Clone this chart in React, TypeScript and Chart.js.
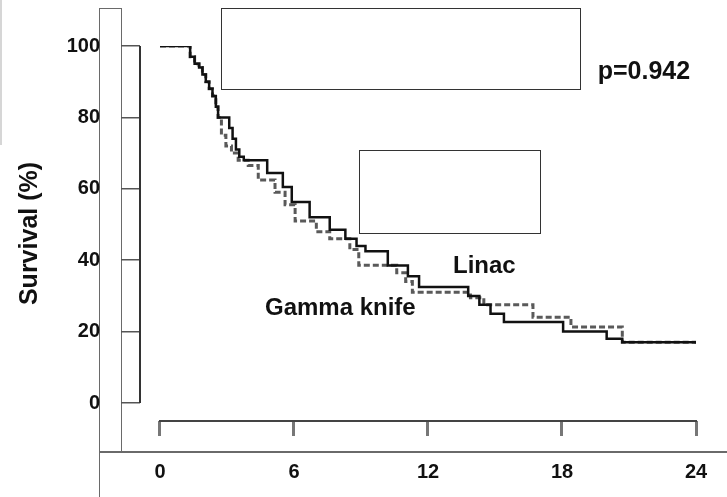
import { useEffect, useRef } from "react";
import { Chart, registerables } from "chart.js";

Chart.register(...registerables);

// ---- data (months, survival %) ----
const X_TICKS = [0, 6, 12, 18, 24];
const Y_TICKS = [0, 20, 40, 60, 80, 100];

const LINAC_MONTHS = [0, 1.35, 1.55, 1.75, 1.9, 2.05, 2.2, 2.35, 2.5, 2.6, 3.1, 3.25, 3.4, 3.55, 3.75, 4.8, 5.5, 5.9, 6.7, 7.6, 8.3, 8.8, 9.2, 10.2, 11.1, 11.6, 13.8, 14.3, 14.8, 15.4, 18.05, 20.0, 20.7, 24];
const LINAC_SURVIVAL = [100, 97, 95, 94, 92, 90, 88, 86, 83, 80, 77, 74, 71, 69, 68, 64.4, 60.5, 56.3, 52, 48.5, 46, 44, 42.5, 38.5, 35.5, 32.5, 30, 27.5, 25, 22.7, 20, 18, 17, 17];

const GK_MONTHS = [0, 1.35, 1.55, 1.75, 1.9, 2.05, 2.2, 2.35, 2.5, 2.6, 2.75, 2.95, 3.2, 3.5, 3.95, 4.4, 5.15, 5.6, 6.05, 7.0, 7.6, 8.5, 8.9, 10.6, 11.0, 11.3, 13.9, 14.5, 16.7, 18.4, 20.7, 24];
const GK_SURVIVAL = [100, 97, 95, 94, 92, 90, 88, 86, 83, 80, 75, 72, 70, 68, 66.5, 62.5, 59, 55.5, 51, 48, 46, 43, 38.6, 36.5, 34, 31, 29.5, 27.5, 24, 21.3, 17, 16.5];

const SERIES_NAMES = ["Linac", "Gamma knife"];
const P_VALUE_TEXT = "p=0.942";
const Y_TITLE = "Survival (%)";

const FONT = '"Liberation Sans", Arial, Helvetica, sans-serif';

const decorPlugin = {
  id: "decor",
  beforeDraw(chart: any) {
    const ctx = chart.ctx as CanvasRenderingContext2D;
    const seg = (x1: number, y1: number, x2: number, y2: number) => {
      ctx.beginPath();
      ctx.moveTo(x1, y1);
      ctx.lineTo(x2, y2);
      ctx.stroke();
    };
    ctx.save();
    // faint scan edge on the far left
    ctx.strokeStyle = "#c8c8c8";
    ctx.lineWidth = 1.5;
    seg(1, 0, 1, 145);
    // frame lines
    ctx.strokeStyle = "#6a6a6a";
    ctx.lineWidth = 1;
    seg(99.5, 8, 99.5, 497);
    seg(121.5, 8, 121.5, 452);
    seg(99, 8.5, 122, 8.5);
    ctx.lineWidth = 2;
    seg(99, 452, 727, 452);
    // blank boxes
    ctx.fillStyle = "#ffffff";
    ctx.strokeStyle = "#333333";
    ctx.lineWidth = 1;
    ctx.fillRect(221.5, 8.5, 359, 81);
    ctx.strokeRect(221.5, 8.5, 359, 81);
    ctx.fillRect(359.5, 150.5, 181, 83);
    ctx.strokeRect(359.5, 150.5, 181, 83);
    ctx.restore();
  },
  afterDraw(chart: any) {
    const ctx = chart.ctx as CanvasRenderingContext2D;
    const xs = chart.scales.x;
    const ys = chart.scales.y;
    const area = chart.chartArea;
    ctx.save();
    // axis lines
    ctx.strokeStyle = "#333";
    ctx.lineWidth = 2;
    ctx.beginPath();
    ctx.moveTo(area.left, ys.getPixelForValue(Y_TICKS[Y_TICKS.length - 1]));
    ctx.lineTo(area.left, ys.getPixelForValue(Y_TICKS[0]));
    ctx.stroke();
    ctx.strokeStyle = "#444";
    ctx.beginPath();
    ctx.moveTo(xs.getPixelForValue(X_TICKS[0]) - 1, area.bottom);
    ctx.lineTo(xs.getPixelForValue(X_TICKS[X_TICKS.length - 1]) + 1, area.bottom);
    ctx.stroke();
    // text annotations
    ctx.fillStyle = "#111";
    ctx.textAlign = "left";
    ctx.textBaseline = "alphabetic";
    ctx.font = `bold 24px ${FONT}`;
    ctx.fillText(SERIES_NAMES[0], xs.getPixelForValue(13.12), ys.getPixelForValue(36.4));
    ctx.fillText(SERIES_NAMES[1], xs.getPixelForValue(4.7), ys.getPixelForValue(24.65));
    ctx.font = `bold 25px ${FONT}`;
    ctx.fillText(P_VALUE_TEXT, xs.getPixelForValue(19.6), ys.getPixelForValue(90.8));
    ctx.restore();
  },
};

export default function App() {
  const ref = useRef<HTMLCanvasElement | null>(null);

  useEffect(() => {
    if (!ref.current) return;
    const chart = new Chart(ref.current, {
      type: "line",
      data: {
        datasets: [
          {
            label: SERIES_NAMES[0],
            data: LINAC_MONTHS.map((m, i) => ({ x: m, y: LINAC_SURVIVAL[i] })),
            borderColor: "#111111",
            borderWidth: 2.5,
            stepped: "before",
            pointRadius: 0,
            fill: false,
          },
          {
            label: SERIES_NAMES[1],
            data: GK_MONTHS.map((m, i) => ({ x: m, y: GK_SURVIVAL[i] })),
            borderColor: "#5a5a5a",
            borderWidth: 3,
            borderDash: [6, 3],
            stepped: "before",
            pointRadius: 0,
            fill: false,
          },
        ],
      },
      options: {
        responsive: false,
        animation: false,
        layout: { padding: { left: 0, right: 31, top: 46, bottom: 0 } },
        plugins: { legend: { display: false }, tooltip: { enabled: false } },
        scales: {
          x: {
            type: "linear",
            position: "bottom",
            min: -0.8955,
            max: 24,
            afterBuildTicks: (s: any) => {
              s.ticks = X_TICKS.map((v) => ({ value: v }));
            },
            afterFit: (s: any) => {
              s.height = 76;
              s.paddingLeft = 0;
              s.paddingRight = 0;
            },
            border: { display: false },
            grid: {
              drawOnChartArea: false,
              drawTicks: true,
              tickLength: 15,
              color: "#777",
              lineWidth: 3,
            },
            ticks: {
              autoSkip: false,
              maxRotation: 0,
              padding: 24,
              color: "#111",
              font: { family: FONT, size: 20, weight: "bold" },
              callback: (v: any) => String(v),
            },
          },
          y: {
            type: "linear",
            position: "left",
            min: -5.042,
            max: 100,
            afterBuildTicks: (s: any) => {
              s.ticks = Y_TICKS.map((v) => ({ value: v }));
            },
            afterFit: (s: any) => {
              s.width = 140;
              s.paddingTop = 0;
              s.paddingBottom = 0;
            },
            border: { display: false },
            grid: {
              drawOnChartArea: false,
              drawTicks: true,
              tickLength: 19,
              color: "#555",
              lineWidth: 1.5,
            },
            ticks: {
              autoSkip: false,
              padding: 21,
              color: "#111",
              font: { family: FONT, size: 20, weight: "bold" },
              callback: (v: any) => String(v),
            },
            title: {
              display: true,
              text: Y_TITLE,
              color: "#111",
              font: { family: FONT, size: 25, weight: "bold" },
              padding: { top: 15, bottom: 0 },
            },
          },
        },
      },
      plugins: [decorPlugin],
    } as any);
    return () => chart.destroy();
  }, []);

  return (
    <div style={{ position: "absolute", left: 0, top: 0, width: 727, height: 497, background: "#fff" }}>
      <canvas ref={ref} width={727} height={497} style={{ display: "block" }} />
    </div>
  );
}
